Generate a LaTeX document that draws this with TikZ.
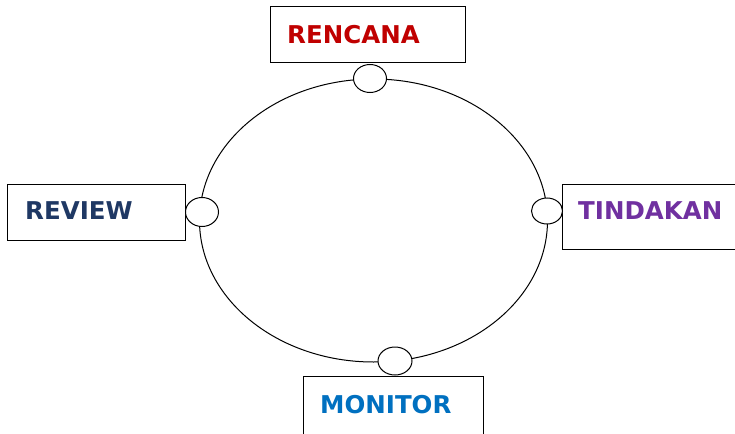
\documentclass[tikz,border=0pt]{standalone}
\usepackage{fontspec}
\setmainfont{DejaVu Sans}
\usetikzlibrary{shapes.geometric}
\definecolor{cred}{HTML}{C00000}
\definecolor{cnavy}{HTML}{1F3864}
\definecolor{cpurple}{HTML}{7030A0}
\definecolor{cblue}{HTML}{0070C0}
\begin{document}
\begin{tikzpicture}[x=1pt,y=-1pt,
  stagebox/.style={draw=black,line width=1pt,fill=white,rectangle,inner sep=0pt},
  stagetext/.style={anchor=west,inner sep=0pt,font=\bfseries\fontsize{24.5}{24.5}\selectfont},
  joint/.style={draw=black,line width=1pt,fill=white,ellipse,inner sep=0pt,minimum width=33pt,minimum height=28pt}]
\useasboundingbox (0,0) rectangle (735,433);
% the cycle
\draw[line width=1pt] (373.5,220.5) ellipse [x radius=174, y radius=141.5];
% stage boxes
\node[stagebox,minimum width=195pt,minimum height=56pt] (rencanabox) at (367.5,35) {};
\node[stagebox,minimum width=178pt,minimum height=56pt] (reviewbox) at (96,212) {};
\node[stagebox,minimum width=190pt,minimum height=65pt] (tindakanbox) at (657,216.5) {};
\node[stagebox,minimum width=180pt,minimum height=70pt] (monitorbox) at (393,411) {};
% joints on the cycle
\node[joint] (jtop) at (370,78.5) {};
\node[joint,minimum height=29pt] (jleft) at (202,212) {};
\node[joint,minimum width=31pt,minimum height=26pt] (jright) at (547,211) {};
\node[joint,minimum width=34pt,minimum height=28pt] (jbottom) at (395,361) {};
% labels
\node[stagetext,text=cred] (rencana) at (287,35) {RENCANA};
\node[stagetext,text=cnavy] (review) at (25,211) {REVIEW};
\node[stagetext,text=cpurple] (tindakan) at (578,211) {TINDAKAN};
\node[stagetext,text=cblue] (monitor) at (320,405) {MONITOR};
\end{tikzpicture}
\end{document}
